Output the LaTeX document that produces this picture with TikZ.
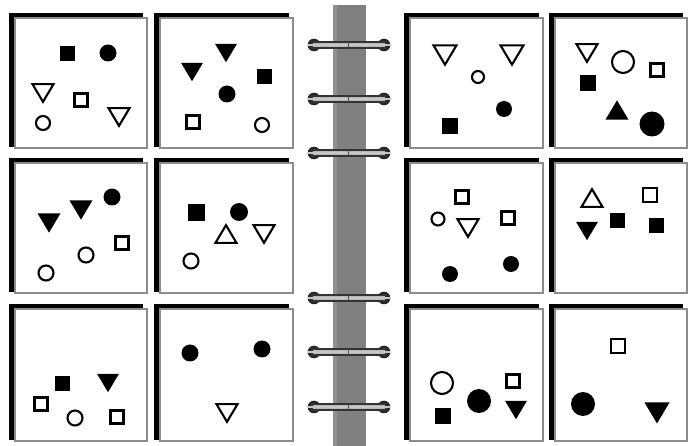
\documentclass[tikz,border=0pt]{standalone}
\begin{document}
\begin{tikzpicture}[x=1pt,y=-1pt,
  shp/.style={draw=black,line width=2.1,line join=miter},
  frame/.style={fill=white,draw=black!45,line width=1.2},
  ringend/.style={fill=black!85},
  ringtube/.style={fill=black!28,draw=black!80,line width=1.1}]
\useasboundingbox (0,0) rectangle (689,446);
\fill[white] (0,0) rectangle (689,446);
% macros
\newcommand\PanelBox[4]{%
  \fill[black] ({#1-6},{#2-5}) rectangle ({#3-4},{#4-1});
  \draw[frame] (#1,#2) rectangle (#3,#4);}
\newcommand\SqF[3]{\fill[black] ({#1-#3/2},{#2-#3/2}) rectangle ++(#3,#3);}
\newcommand\SqO[3]{\draw[shp] ({#1-#3/2},{#2-#3/2}) rectangle ++(#3,#3);}
\newcommand\CiF[3]{\fill[black] (#1,#2) circle[radius={#3/2}];}
\newcommand\CiO[3]{\draw[shp] (#1,#2) circle[radius={#3/2}];}
\newcommand\TdO[3]{\draw[shp] ({#1-#3/2},{#2-0.42*#3}) -- ({#1+#3/2},{#2-0.42*#3}) -- (#1,{#2+0.42*#3}) -- cycle;}
\newcommand\TdF[3]{\fill[black] ({#1-#3/2},{#2-0.42*#3}) -- ({#1+#3/2},{#2-0.42*#3}) -- (#1,{#2+0.42*#3}) -- cycle;}
\newcommand\TuO[3]{\draw[shp] ({#1-#3/2},{#2+0.42*#3}) -- ({#1+#3/2},{#2+0.42*#3}) -- (#1,{#2-0.42*#3}) -- cycle;}
\newcommand\TuF[3]{\fill[black] ({#1-#3/2},{#2+0.42*#3}) -- ({#1+#3/2},{#2+0.42*#3}) -- (#1,{#2-0.42*#3}) -- cycle;}
\newcommand\Ring[1]{%
  \fill[ringend] (314,#1) circle[radius=6.3];
  \fill[ringend] (384,#1) circle[radius=6.3];
  \draw[ringtube] (312,{#1-3}) rectangle (386,{#1+3});
  \draw[black!22,line width=2.2,line cap=round] (308.5,#1) -- (389.5,#1);
  \draw[black!70,line width=0.8] (348,{#1-3}) -- (348,{#1+3});}
% spine bar
\fill[black!50] (333,5) rectangle (366,446);
\fill[black!43] (333,5) rectangle (337,446);
\foreach \yy in {45,99,153,298,352,407} {\Ring{\yy}}
% panels
\PanelBox{15}{18}{147}{148}
\PanelBox{160}{18}{293}{148}
\PanelBox{410}{18}{543}{148}
\PanelBox{555}{18}{687}{148}
\PanelBox{15}{163}{147}{293}
\PanelBox{160}{163}{293}{293}
\PanelBox{410}{163}{543}{293}
\PanelBox{555}{163}{687}{293}
\PanelBox{15}{309}{147}{441}
\PanelBox{160}{309}{293}{441}
\PanelBox{410}{309}{543}{441}
\PanelBox{555}{309}{687}{441}
% panel (1,1)
\SqF{67}{54}{15}
\CiF{108}{53}{17}
\TdO{43}{93}{21}
\SqO{81}{100}{13}
\TdO{119}{117}{21}
\CiO{43}{123}{14}
% panel (1,2)
\TdF{226}{53}{22}
\TdF{192}{72}{22}
\SqF{264}{77}{15}
\CiF{227}{94}{17}
\SqO{193}{122}{13}
\CiO{262}{125}{14}
% panel (1,3)
\TdO{445}{55}{23}
\TdO{512}{55}{23}
\CiO{478}{77}{12}
\CiF{504}{109}{16}
\SqF{450}{126}{16}
% panel (1,4)
\TdO{587}{53}{21}
\CiO{623}{62}{22}
\SqO{657}{70}{13}
\SqF{588}{83}{16}
\TuF{617}{110}{23}
\CiF{652}{124}{25}
% panel (2,1)
\CiF{112}{197}{17}
\TdF{81}{210}{23}
\TdF{49}{223}{23}
\SqO{122}{243}{13}
\CiO{86}{255}{15}
\CiO{46}{273}{15}
% panel (2,2)
\SqF{196}{213}{17}
\CiF{239}{212}{18}
\TuO{226}{234}{21}
\TdO{264}{234}{21}
\CiO{191}{261}{15}
% panel (2,3)
\SqO{462}{197}{13}
\CiO{438}{219}{13}
\TdO{468}{228}{21}
\SqO{508}{218}{13}
\CiF{450}{274}{16}
\CiF{511}{264}{16}
% panel (2,4)
\TuO{592}{198}{21}
\SqO{650}{195}{14}
\SqF{617}{221}{15}
\SqF{656}{226}{15}
\TdF{587}{231}{22}
% panel (3,1)
\SqF{62}{384}{15}
\TdF{108}{383}{22}
\SqO{41}{404}{13}
\CiO{75}{418}{15}
\SqO{117}{417}{13}
% panel (3,2)
\CiF{190}{353}{17}
\CiF{262}{349}{17}
\TdO{227}{413}{21}
% panel (3,3)
\CiO{442}{383}{22}
\SqO{513}{381}{13}
\CiF{479}{401}{24}
\SqF{443}{416}{16}
\TdF{516}{410}{22}
% panel (3,4)
\SqO{618}{346}{14}
\CiF{583}{404}{24}
\TdF{657}{413}{25}
\end{tikzpicture}
\end{document}
